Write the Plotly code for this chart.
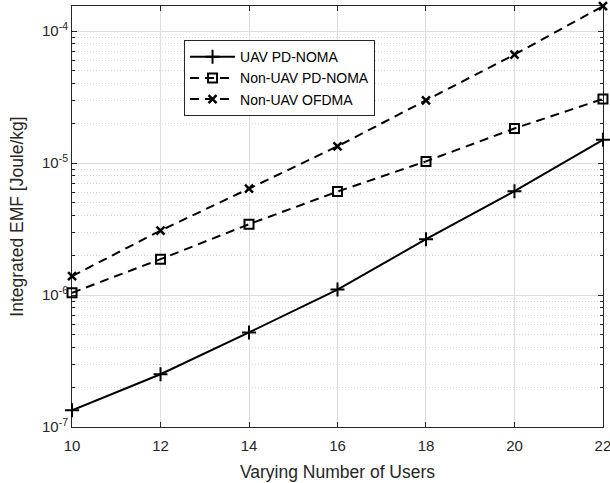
import numpy as np
import plotly.graph_objects as go

users = [10, 12, 14, 16, 18, 20, 22]
uav_pdnoma = [1.34e-7, 2.51e-7, 5.21e-7, 1.10e-6, 2.65e-6, 6.12e-6, 1.50e-5]
nonuav_pdnoma = [1.04e-6, 1.87e-6, 3.44e-6, 6.08e-6, 1.03e-5, 1.83e-5, 3.06e-5]
nonuav_ofdma = [1.39e-6, 3.08e-6, 6.40e-6, 1.34e-5, 2.99e-5, 6.64e-5, 1.545e-4]

x_ticks = [10, 12, 14, 16, 18, 20, 22]
y_ticks = [1e-7, 1e-6, 1e-5, 1e-4]
y_ticktext = ["10<sup>-7</sup>", "10<sup>-6</sup>", "10<sup>-5</sup>", "10<sup>-4</sup>"]
y_minor = [m * 10.0**e for e in range(-7, -3) for m in range(2, 10)]

FONT = "Liberation Sans, Arial, Helvetica, sans-serif"
AX = "#262626"

fig = go.Figure()
fig.add_trace(go.Scatter(
    x=users, y=uav_pdnoma, name="UAV PD-NOMA", mode="lines+markers",
    line=dict(color="black", width=2),
    marker=dict(symbol="cross-thin", size=10, line=dict(color="black", width=2)),
    cliponaxis=False))
fig.add_trace(go.Scatter(
    x=users, y=nonuav_pdnoma, name="Non-UAV PD-NOMA", mode="lines+markers",
    line=dict(color="black", width=2, dash="9px,6px"),
    marker=dict(symbol="square-open", size=9, color="black", line=dict(color="black", width=2)),
    cliponaxis=False))
fig.add_trace(go.Scatter(
    x=users, y=nonuav_ofdma, name="Non-UAV OFDMA", mode="lines+markers",
    line=dict(color="black", width=2, dash="9px,6px"),
    marker=dict(symbol="x-thin", size=8, line=dict(color="black", width=2.5)),
    cliponaxis=False))

fig.update_layout(
    width=610, height=483,
    margin=dict(l=72, r=7, t=6, b=56, autoexpand=False),
    paper_bgcolor="white", plot_bgcolor="white",
    font=dict(family=FONT, size=15, color=AX),
    showlegend=True,
    legend=dict(x=0.211, y=0.919, xanchor="left", yanchor="top",
                bgcolor="white", bordercolor=AX, borderwidth=1,
                font=dict(family=FONT, size=14, color="black"),
                tracegroupgap=0, itemwidth=45),
    xaxis=dict(
        range=[9.999, 22.001], tickmode="array", tickvals=x_ticks, automargin=False,
        ticklabeloverflow="allow", ticklabelstandoff=5, layer="below traces",
        ticks="inside", ticklen=5, tickcolor=AX, tickwidth=1,
        showline=True, linecolor=AX, linewidth=1, mirror="ticks",
        showgrid=True, gridcolor="#dedede", gridwidth=1, zeroline=False,
        tickfont=dict(size=15, color=AX),
        title=dict(text="Varying Number of Users", font=dict(size=17.5, color=AX), standoff=12)),
    yaxis=dict(
        type="log", range=[-7, np.log10(1.55e-4)], automargin=False,
        ticklabeloverflow="allow", layer="below traces",
        tickmode="array", tickvals=y_ticks, ticktext=y_ticktext,
        ticks="inside", ticklen=5, tickcolor=AX, tickwidth=1,
        showline=True, linecolor=AX, linewidth=1, mirror="ticks",
        showgrid=True, gridcolor="#dedede", gridwidth=1, zeroline=False,
        tickfont=dict(size=15, color=AX),
        minor=dict(tickmode="array", tickvals=y_minor, ticks="inside", ticklen=3,
                   tickcolor=AX, showgrid=True, gridcolor="#d4d4d4", griddash="1px,2px", gridwidth=1),
        title=dict(text="Integrated EMF [Joule/kg]", font=dict(size=17.5, color=AX), standoff=13)),
)

fig.write_html("out.html", config={"displayModeBar": False},
               post_script="document.body.style.margin='0';document.body.style.overflow='hidden';")
